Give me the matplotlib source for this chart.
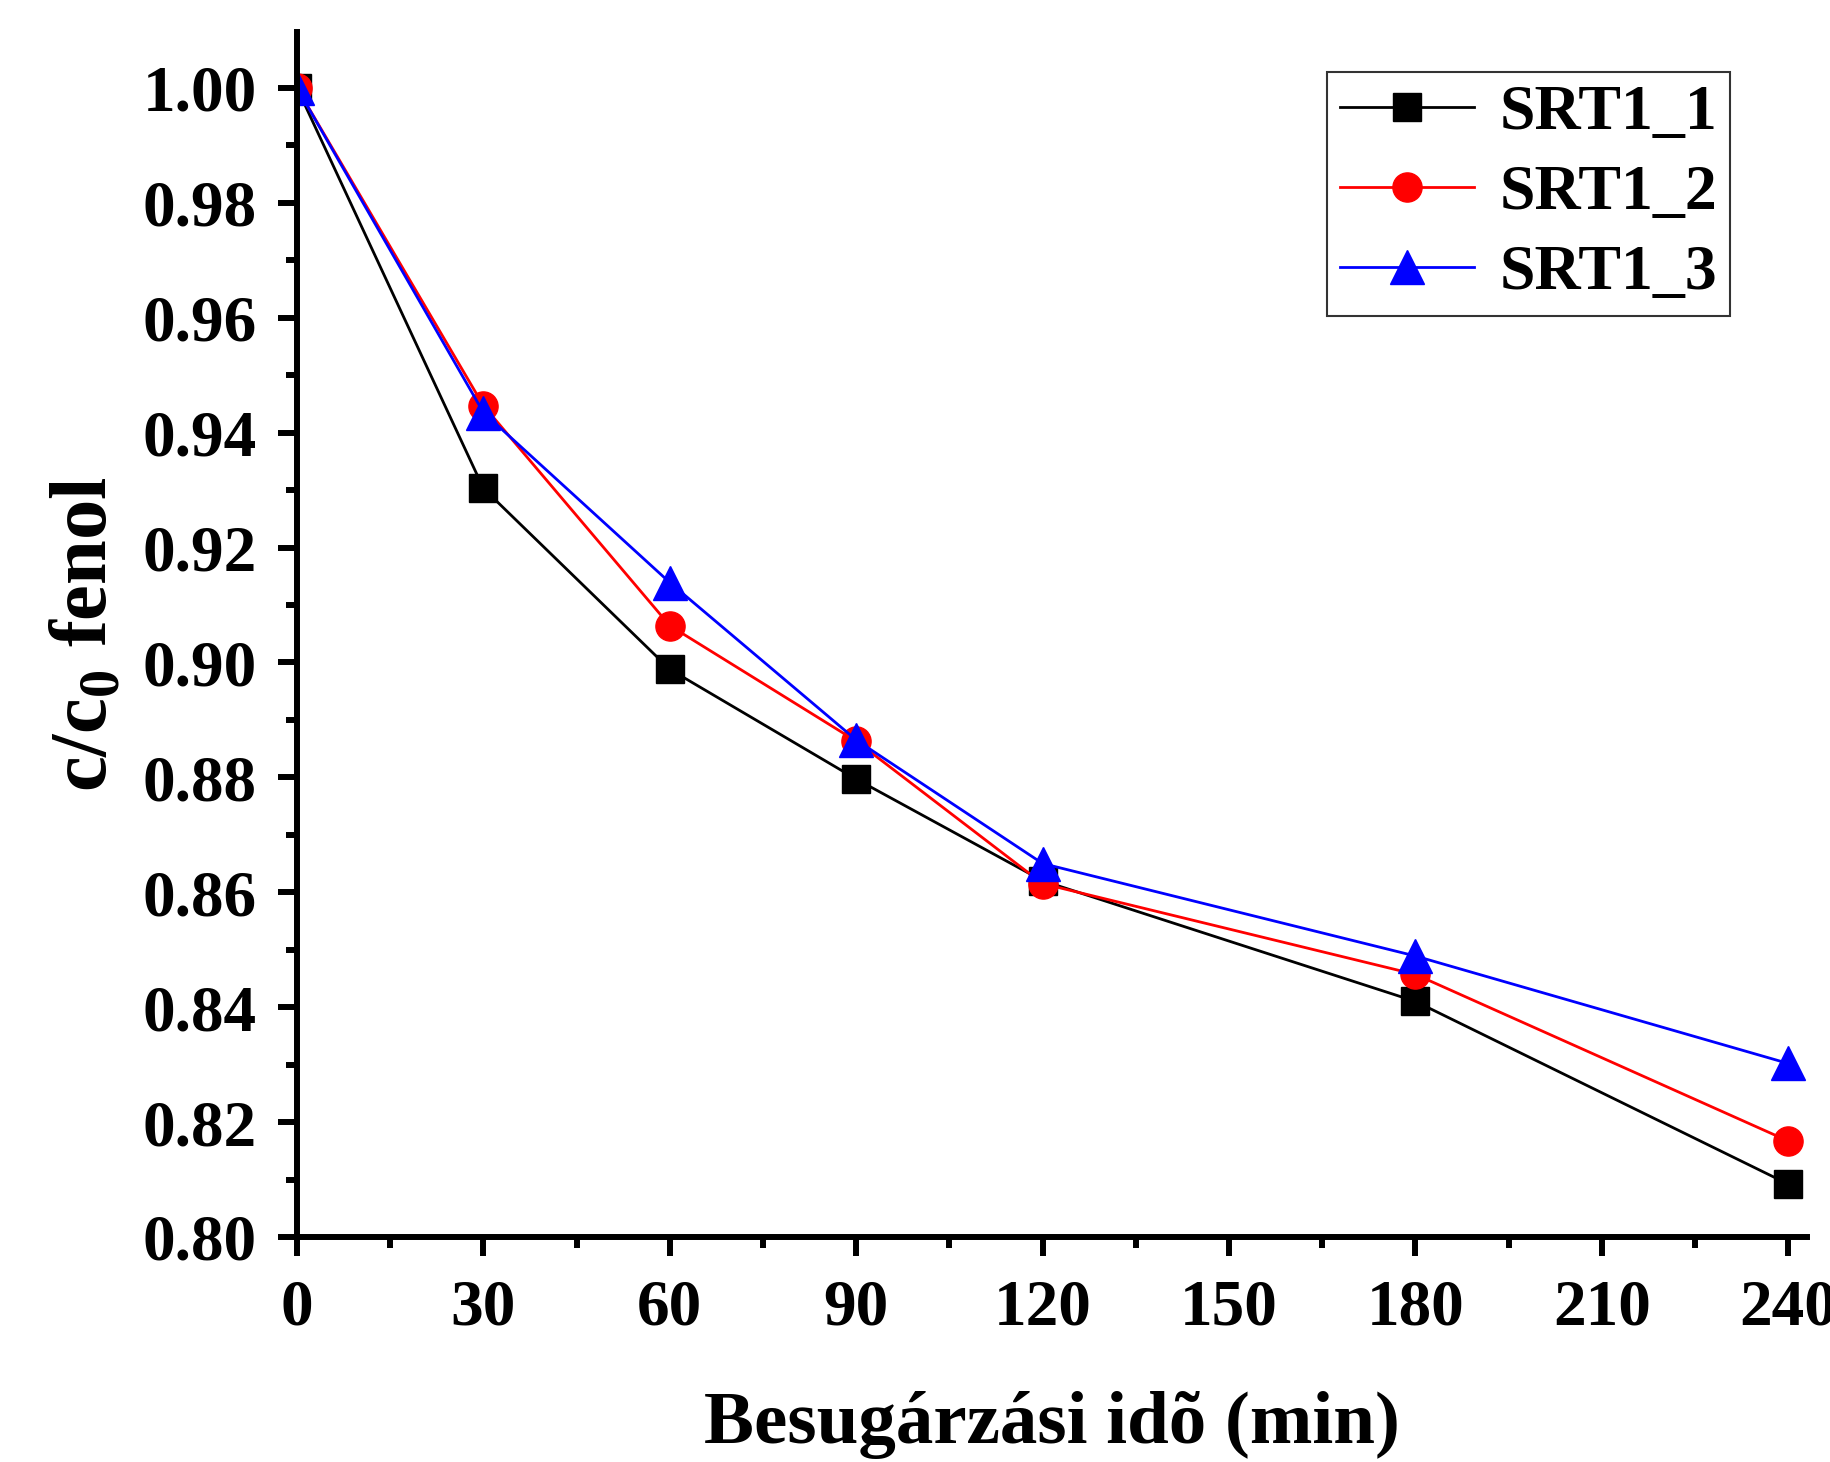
import numpy as np
from matplotlib import pyplot as plt
from matplotlib.ticker import MultipleLocator

# Data
time_min = [0, 30, 60, 90, 120, 180, 240]
srt1_1 = [1.000, 0.9303, 0.8988, 0.8797, 0.8620, 0.8410, 0.8092]
srt1_2 = [1.000, 0.9447, 0.9064, 0.8863, 0.8615, 0.8457, 0.8167]
srt1_3 = [1.000, 0.9435, 0.9139, 0.8865, 0.8650, 0.8489, 0.8302]

labels = ["SRT1_1", "SRT1_2", "SRT1_3"]

plt.rcParams["font.family"] = ["Liberation Serif", "DejaVu Serif"]
plt.rcParams["font.weight"] = "bold"
plt.rcParams["mathtext.fontset"] = "custom"
plt.rcParams["mathtext.rm"] = "Liberation Serif:bold"
plt.rcParams["mathtext.bf"] = "Liberation Serif:bold"


def main():
    fig = plt.figure(figsize=(18.3, 14.62), dpi=100)
    ax = fig.add_axes([0.1623, 0.1539, 0.8251, 0.8241])

    ax.plot(time_min, srt1_1, color="black", lw=2, marker="s", ms=20,
            label=labels[0])
    ax.plot(time_min, srt1_2, color="red", lw=2, marker="o", ms=21,
            label=labels[1])
    ax.plot(time_min, srt1_3, color="blue", lw=2, marker="^", ms=24,
            label=labels[2])

    ax.set_xlim(0, 243)
    ax.set_ylim(0.80, 1.0097)

    ax.xaxis.set_major_locator(MultipleLocator(30))
    ax.xaxis.set_minor_locator(MultipleLocator(15))
    ax.yaxis.set_major_locator(MultipleLocator(0.02))
    ax.yaxis.set_minor_locator(MultipleLocator(0.01))
    ax.yaxis.set_major_formatter(plt.FormatStrFormatter("%.2f"))

    for side in ["top", "right"]:
        ax.spines[side].set_visible(False)
    for side in ["left", "bottom"]:
        ax.spines[side].set_linewidth(4.3)

    ax.tick_params(which="major", direction="out", length=14, width=4.3,
                   labelsize=47)
    ax.tick_params(which="minor", direction="out", length=8, width=4.3)
    ax.tick_params(axis="y", which="major", pad=15)
    ax.tick_params(axis="x", which="major", pad=16)
    for lab in ax.get_xticklabels() + ax.get_yticklabels():
        lab.set_fontweight("bold")

    ax.set_xlabel("Besugárzási idõ (min)", fontsize=54, fontweight="bold",
                  labelpad=38)
    ax.set_ylabel(r"c/c$_{\mathrm{0}}$ fenol", fontsize=58,
                  fontweight="bold", labelpad=14)

    leg = ax.legend(loc="upper right", bbox_to_anchor=(0.949, 0.967),
                    fontsize=46, frameon=True, fancybox=False,
                    edgecolor="black", handlelength=2.1, handletextpad=0.4,
                    borderpad=0.2, labelspacing=0.33, borderaxespad=0)
    leg.get_frame().set_linewidth(1.5)
    for txt in leg.get_texts():
        txt.set_fontweight("bold")

    fig.savefig("out.png", dpi=100)


if __name__ == "__main__":
    main()
